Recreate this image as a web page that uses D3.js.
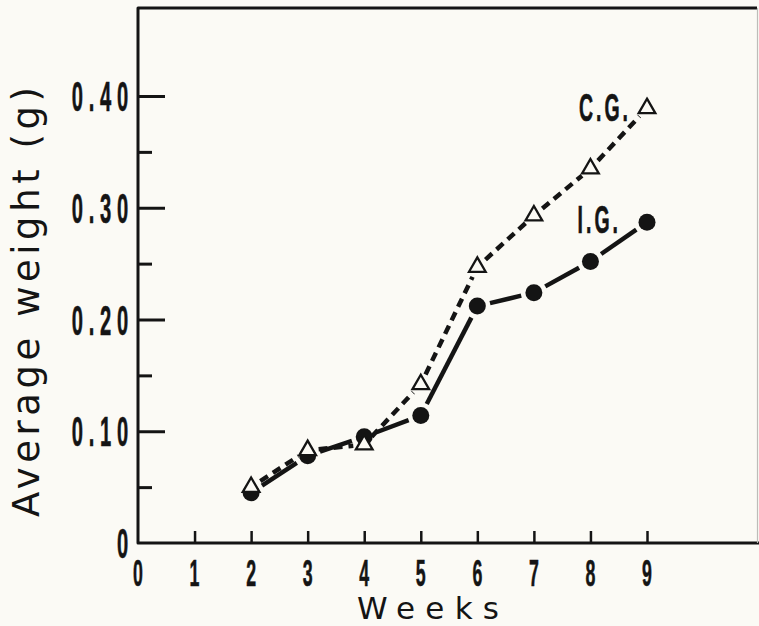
<!DOCTYPE html>
<html>
<head>
<meta charset="utf-8">
<script src="https://cdn.jsdelivr.net/npm/d3@7"></script>
<style>
  body { margin: 0; background: #fbfaf5; }
  svg { display: block; }
</style>
</head>
<body>
<svg id="chart" width="759" height="626"></svg>
<script>
// week numbers and mean weights
const weeks = [2, 3, 4, 5, 6, 7, 8, 9];
const cgWeight = [0.050, 0.083, 0.088, 0.142, 0.247, 0.293, 0.335, 0.389];
const igWeight = [0.045, 0.078, 0.095, 0.114, 0.212, 0.224, 0.252, 0.287];
const xTicks = [0, 1, 2, 3, 4, 5, 6, 7, 8, 9];
const yMajor = [0.1, 0.2, 0.3, 0.4];
const yMinor = [0.05, 0.15, 0.25, 0.35];
const yLabels = ["0", "0.10", "0.20", "0.30", "0.40"];

const ink = "#141414";
const bg = "#fbfaf5";
const svg = d3.select("#chart");

const x = d3.scaleLinear().domain([0, 9]).range([138, 647]);
const y = d3.scaleLinear().domain([0, 0.4]).range([543, 96]);

// frame : left axis, bottom axis, top line, faint right edge
const frame = svg.append("g").attr("stroke", ink).attr("fill", "none");
frame.append("path")
  .attr("d", `M757,8 H138 V543 H759`)
  .attr("stroke-width", 3)
  .attr("stroke-linejoin", "round");
frame.append("line")
  .attr("x1", 757.5).attr("x2", 757.5).attr("y1", 8).attr("y2", 543)
  .attr("stroke", "#bdbdb8").attr("stroke-width", 1.2);

// y ticks point inward
const yAxisMajor = d3.axisRight(y).tickValues(yMajor).tickSize(27).tickFormat("");
const yAxisMinor = d3.axisRight(y).tickValues(yMinor).tickSize(14).tickFormat("");
[yAxisMajor, yAxisMinor].forEach(function(ax) {
  const g = svg.append("g").attr("transform", "translate(138,0)").call(ax);
  g.select(".domain").remove();
  g.selectAll("line").attr("stroke", ink).attr("stroke-width", 3);
});

const xAxis = d3.axisTop(x).tickValues(xTicks.slice(1)).tickSize(12).tickFormat("");
const gx = svg.append("g").attr("transform", "translate(0,543)").call(xAxis);
gx.select(".domain").remove();
gx.selectAll("line").attr("stroke", ink).attr("stroke-width", 2.5);

// condensed lettering for numbers
function narrowText(sel, size) {
  return sel
    .attr("font-family", "'Liberation Sans', Arial, sans-serif")
    .attr("font-weight", "bold")
    .attr("font-size", size)
    .attr("fill", ink)
    .attr("stroke", ink)
    .attr("stroke-width", 0.6);
}

svg.append("g").selectAll("text")
  .data(yLabels)
  .join("text")
  .attr("transform", (d, i) => `translate(134,${y(i * 0.1) + 15}) scale(0.48,1)`)
  .attr("text-anchor", "end")
  .attr("letter-spacing", 12)
  .text(d => d)
  .call(narrowText, 42);

svg.append("g").selectAll("text")
  .data(xTicks)
  .join("text")
  .attr("transform", d => `translate(${x(d)},${586}) scale(0.48,1)`)
  .attr("text-anchor", "middle")
  .text(d => d)
  .call(narrowText, 37);

// axis titles
svg.append("text")
  .attr("transform", "translate(39,302) rotate(-90)")
  .attr("text-anchor", "middle")
  .attr("font-family", "'DejaVu Sans', sans-serif")
  .attr("font-size", 37)
  .attr("fill", ink)
  .attr("textLength", 430)
  .attr("lengthAdjust", "spacing")
  .text("Average weight (g)");

svg.append("text")
  .attr("x", 428)
  .attr("y", 619)
  .attr("text-anchor", "middle")
  .attr("font-family", "'DejaVu Sans', sans-serif")
  .attr("font-size", 31)
  .attr("fill", ink)
  .attr("textLength", 142)
  .attr("lengthAdjust", "spacing")
  .text("Weeks");

// segments between neighbouring points, shortened so they stop short of markers
function segments(vals, gap) {
  const out = [];
  for (let i = 0; i < vals.length - 1; i++) {
    const x1 = x(weeks[i]), y1 = y(vals[i]);
    const x2 = x(weeks[i + 1]), y2 = y(vals[i + 1]);
    const len = Math.hypot(x2 - x1, y2 - y1);
    const ux = (x2 - x1) / len, uy = (y2 - y1) / len;
    out.push({ x1: x1 + ux * gap, y1: y1 + uy * gap, x2: x2 - ux * gap, y2: y2 - uy * gap });
  }
  return out;
}

const cg = weeks.map((w, i) => ({ week: w, value: cgWeight[i] }));
const ig = weeks.map((w, i) => ({ week: w, value: igWeight[i] }));

// C.G. short dashes
svg.append("g").selectAll("line")
  .data(segments(cgWeight, 11))
  .join("line")
  .attr("x1", d => d.x1).attr("y1", d => d.y1)
  .attr("x2", d => d.x2).attr("y2", d => d.y2)
  .attr("stroke", ink)
  .attr("stroke-width", 4.5)
  .attr("stroke-dasharray", "9,6");

// I.G. long strokes
svg.append("g").selectAll("line")
  .data(segments(igWeight, 13))
  .join("line")
  .attr("x1", d => d.x1).attr("y1", d => d.y1)
  .attr("x2", d => d.x2).attr("y2", d => d.y2)
  .attr("stroke", ink)
  .attr("stroke-width", 4.5);

svg.append("g").selectAll("circle")
  .data(ig)
  .join("circle")
  .attr("cx", d => x(d.week))
  .attr("cy", d => y(d.value))
  .attr("r", 8.5)
  .attr("fill", ink);

svg.append("g").selectAll("path")
  .data(cg)
  .join("path")
  .attr("transform", d => `translate(${x(d.week)},${y(d.value)})`)
  .attr("d", d3.symbol(d3.symbolTriangle, 120))
  .attr("fill", bg)
  .attr("stroke", ink)
  .attr("stroke-width", 2.3);

// series labels next to the last point
const lastCg = cg[cg.length - 1], lastIg = ig[ig.length - 1];
svg.append("text")
  .attr("transform", `translate(${x(lastCg.week) - 16},${y(lastCg.value) + 13}) scale(0.5,1)`)
  .attr("text-anchor", "end")
  .attr("letter-spacing", 6)
  .text("C.G.")
  .call(narrowText, 39);
svg.append("text")
  .attr("transform", `translate(${x(lastIg.week) - 26},${y(lastIg.value) + 11}) scale(0.5,1)`)
  .attr("text-anchor", "end")
  .attr("letter-spacing", 6)
  .text("I.G.")
  .call(narrowText, 39);
</script>
</body>
</html>
